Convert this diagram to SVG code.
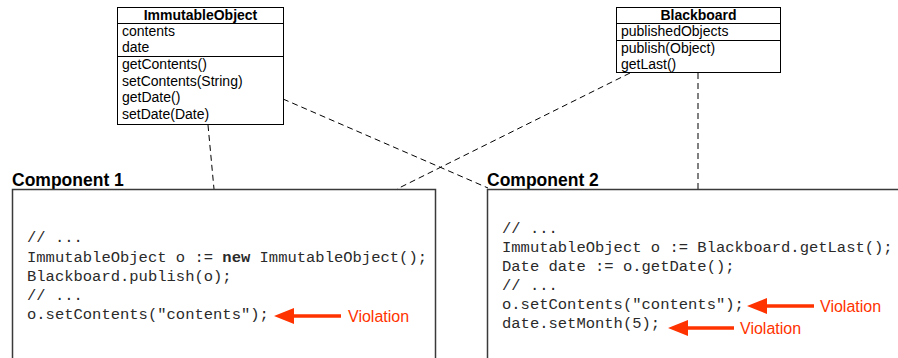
<svg xmlns="http://www.w3.org/2000/svg" width="898" height="358" viewBox="0 0 898 358">
  <style>
    .cls { fill: #fff; stroke: #000; stroke-width: 1; }
    .sep { stroke: #000; stroke-width: 1; }
    .ct { font-family: "Liberation Sans", Arial, sans-serif; font-size: 14px; fill: #000; }
    .ctb { font-family: "Liberation Sans", Arial, sans-serif; font-size: 14px; font-weight: bold; fill: #000; text-anchor: middle; }
    .comp { fill: #fff; stroke: #3a3a3a; stroke-width: 1.5; }
    .clabel { font-family: "Liberation Sans", Arial, sans-serif; font-size: 17.5px; font-weight: bold; fill: #000; }
    .code { font-family: "Liberation Mono", "Courier New", monospace; font-size: 15.5px; fill: #2a2a2a; white-space: pre; }
    .dep { stroke: #000; stroke-width: 1; stroke-dasharray: 6 4; fill: none; }
    .warn { stroke: #ff3300; stroke-width: 3.5; fill: none; }
    .warnhead { fill: #ff3300; }
    .vtext { font-family: "Liberation Sans", Arial, sans-serif; font-size: 16px; fill: #ff3300; }
  </style>

  <!-- dependency connectors -->
  <g id="connectors">
    <line class="dep" x1="208" y1="125" x2="214" y2="189"/>
    <line class="dep" x1="283" y1="99" x2="488" y2="188"/>
    <line class="dep" x1="630" y1="73" x2="397" y2="189"/>
    <line class="dep" x1="698" y1="73" x2="698" y2="189"/>
  </g>

  <!-- class ImmutableObject -->
  <g id="immutable-object">
    <rect class="cls" x="117.5" y="7.5" width="166" height="117"/>
    <line class="sep" x1="117.5" y1="23.5" x2="283.5" y2="23.5"/>
    <line class="sep" x1="117.5" y1="56.5" x2="283.5" y2="56.5"/>
    <text class="ctb" x="200.5" y="20">ImmutableObject</text>
    <text class="ct" x="122" y="36">contents</text>
    <text class="ct" x="122" y="52">date</text>
    <text class="ct" x="122" y="69">getContents()</text>
    <text class="ct" x="122" y="86">setContents(String)</text>
    <text class="ct" x="122" y="102">getDate()</text>
    <text class="ct" x="122" y="119">setDate(Date)</text>
  </g>

  <!-- class Blackboard -->
  <g id="blackboard">
    <rect class="cls" x="616.5" y="7.5" width="164" height="65"/>
    <line class="sep" x1="616.5" y1="23.5" x2="780.5" y2="23.5"/>
    <line class="sep" x1="616.5" y1="40.5" x2="780.5" y2="40.5"/>
    <text class="ctb" x="698.5" y="20">Blackboard</text>
    <text class="ct" x="621" y="36">publishedObjects</text>
    <text class="ct" x="621" y="53">publish(Object)</text>
    <text class="ct" x="621" y="69">getLast()</text>
  </g>

  <!-- Component 1 -->
  <g id="component-1">
    <text class="clabel" x="12" y="186">Component 1</text>
    <rect class="comp" x="12.5" y="189.5" width="423" height="180"/>
    <text class="code" x="27" y="242">// ...</text>
    <text class="code" x="27" y="262">ImmutableObject o := <tspan font-weight="bold">new</tspan> ImmutableObject();</text>
    <text class="code" x="27" y="281">Blackboard.publish(o);</text>
    <text class="code" x="27" y="300">// ...</text>
    <text class="code" x="27" y="319">o.setContents("contents");</text>
    <line class="warn" x1="288" y1="316" x2="341" y2="316"/>
    <polygon class="warnhead" points="274,316 294,308 294,324"/>
    <text class="vtext" x="348" y="322">Violation</text>
  </g>

  <!-- Component 2 -->
  <g id="component-2">
    <text class="clabel" x="487" y="186">Component 2</text>
    <rect class="comp" x="487.5" y="189.5" width="420" height="180"/>
    <text class="code" x="502" y="233">// ...</text>
    <text class="code" x="502" y="252">ImmutableObject o := Blackboard.getLast();</text>
    <text class="code" x="502" y="271">Date date := o.getDate();</text>
    <text class="code" x="502" y="290">// ...</text>
    <text class="code" x="502" y="309">o.setContents("contents");</text>
    <text class="code" x="502" y="328">date.setMonth(5);</text>
    <line class="warn" x1="761" y1="306" x2="814" y2="306"/>
    <polygon class="warnhead" points="747,306 767,298 767,314"/>
    <text class="vtext" x="820" y="312">Violation</text>
    <line class="warn" x1="682" y1="328" x2="734" y2="328"/>
    <polygon class="warnhead" points="668,328 688,320 688,336"/>
    <text class="vtext" x="740" y="334">Violation</text>
  </g>
</svg>
